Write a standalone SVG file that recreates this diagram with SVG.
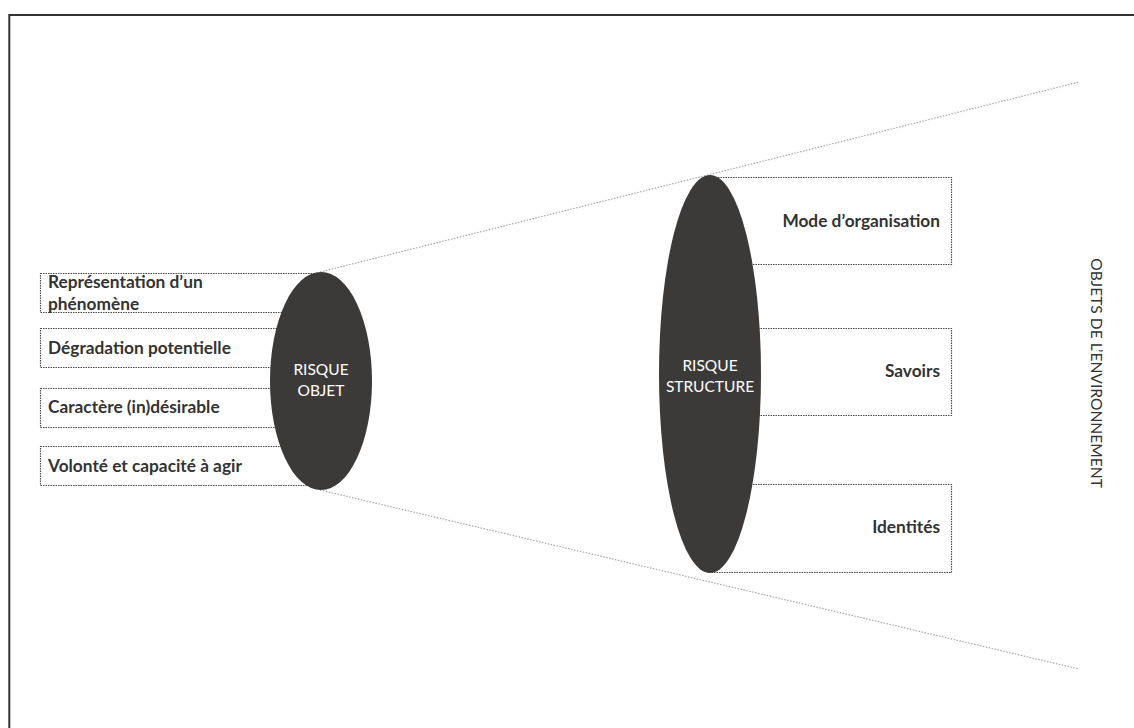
<svg xmlns="http://www.w3.org/2000/svg" width="1134" height="728" viewBox="0 0 1134 728">
  <style>
    .frame { stroke: #333333; stroke-width: 2; fill: none; }
    .box { fill: #ffffff; stroke: #4a4a4a; stroke-width: 1.2; stroke-dasharray: 1.5 1; }
    .ray { stroke: #a8a8a8; stroke-width: 1.2; stroke-dasharray: 1.5 1.5; fill: none; }
    .blob { fill: #3c3a39; }
    .lbl { font-family: Lato, "Open Sans", sans-serif; font-weight: 700; font-size: 17.3px; fill: #333333; }
    .in { font-family: Lato, "Open Sans", sans-serif; font-size: 15.5px; fill: #ffffff; text-anchor: middle; }
    .side { font-family: Lato, "Open Sans", sans-serif; font-size: 15.6px; fill: #333333; text-anchor: middle; }
  </style>
  <rect width="1134" height="728" fill="#ffffff"/>
  <g id="frame">
    <path class="frame" d="M9.3 728 V15 H1134"/>
  </g>
  <g id="connectors">
    <line class="ray" x1="320" y1="272" x2="1079" y2="82"/>
    <line class="ray" x1="320" y1="490" x2="1079" y2="669"/>
  </g>
  <g id="attr-representation">
    <rect class="box" x="40.5" y="273.5" width="280" height="39"/>
    <text class="lbl" x="48" y="288">Représentation d’un</text>
    <text class="lbl" x="48" y="309.5">phénomène</text>
  </g>
  <g id="attr-degradation">
    <rect class="box" x="40.5" y="328.5" width="280" height="39"/>
    <text class="lbl" x="48" y="353.5">Dégradation potentielle</text>
  </g>
  <g id="attr-caractere">
    <rect class="box" x="40.5" y="388.5" width="280" height="39"/>
    <text class="lbl" x="48" y="413">Caractère (in)désirable</text>
  </g>
  <g id="attr-volonte">
    <rect class="box" x="40.5" y="446.5" width="280" height="39"/>
    <text class="lbl" x="48" y="472">Volonté et capacité à agir</text>
  </g>
  <g id="risque-objet">
    <ellipse class="blob" cx="321" cy="381" rx="51" ry="109"/>
    <text class="in" x="321" y="375">RISQUE</text>
    <text class="in" x="321" y="396">OBJET</text>
  </g>
  <g id="struct-mode">
    <rect class="box" x="710.5" y="177.5" width="241" height="87"/>
    <text class="lbl" x="940" y="227" text-anchor="end">Mode d’organisation</text>
  </g>
  <g id="struct-savoirs">
    <rect class="box" x="710.5" y="328.5" width="241" height="87"/>
    <text class="lbl" x="940" y="377" text-anchor="end">Savoirs</text>
  </g>
  <g id="struct-identites">
    <rect class="box" x="710.5" y="484.5" width="241" height="88"/>
    <text class="lbl" x="940" y="533" text-anchor="end">Identités</text>
  </g>
  <g id="risque-structure">
    <ellipse class="blob" cx="710" cy="374" rx="51" ry="199"/>
    <text class="in" x="710" y="371">RISQUE</text>
    <text class="in" x="710" y="392">STRUCTURE</text>
  </g>
  <g id="objets-environnement">
    <text class="side" transform="translate(1091 373) rotate(90)" x="0" y="0">OBJETS DE L’ENVIRONNEMENT</text>
  </g>
</svg>
